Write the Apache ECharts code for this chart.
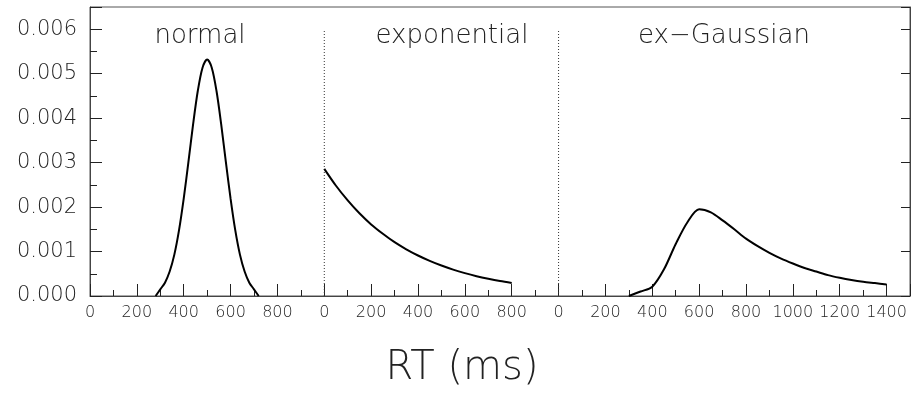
<!DOCTYPE html>
<html>
<head>
<meta charset="utf-8">
<script src="https://cdn.jsdelivr.net/npm/echarts@6/dist/echarts.min.js"></script>
<style>
  html, body { margin: 0; padding: 0; background: #fff; }
  #chart { width: 917px; height: 405px; }
</style>
</head>
<body>
<div id="chart"></div>
<script>
// three panels drawn on one shared RT axis, each panel shifted by its offset
const panelNames = ['normal', 'exponential', 'ex\u2212Gaussian'];
const panelOffsets = [0, 1000, 2000];

// normal density (RT in ms, density per ms)
const normalRT = [280, 300, 320, 340, 360, 380, 400, 420, 440, 460, 480, 500,
  520, 540, 560, 580, 600, 620, 640, 660, 680, 700, 720];
const normalDens = [0, 0.00015, 0.00030, 0.00055, 0.00093, 0.00148, 0.00219, 0.00301,
  0.00386, 0.00461, 0.00513, 0.00532, 0.00513, 0.00461, 0.00386, 0.00301, 0.00219,
  0.00148, 0.00093, 0.00055, 0.00030, 0.00015, 0];

// exponential density
const expRT = [0, 50, 100, 150, 200, 250, 300, 350, 400, 450, 500, 550, 600, 650, 700, 750, 800];
const expDens = [0.00286, 0.00248, 0.00215, 0.00186, 0.00161, 0.00140, 0.00121, 0.00105,
  0.000911, 0.000790, 0.000685, 0.000594, 0.000515, 0.000446, 0.000387, 0.000335, 0.000291];

// ex-Gaussian density
const exgRT = [300, 350, 400, 450, 500, 550, 600, 650, 700, 750, 800, 850, 900, 950,
  1000, 1050, 1100, 1150, 1200, 1250, 1300, 1350, 1400];
const exgDens = [0, 0.00010, 0.00021, 0.00060, 0.00117, 0.00166, 0.00195, 0.00188,
  0.00170, 0.00150, 0.00129, 0.00112, 0.00097, 0.00084, 0.00073, 0.00063, 0.00055,
  0.00047, 0.00041, 0.00036, 0.00032, 0.00029, 0.00026];

// dividers between panels
const dividerRT = [1000, 2000];
const dividerTop = 0.006;

const yMax = 0.0065;
const xMax = 3500;

const font = 'DejaVu Sans';
const thin = 200;
const ink = '#222';

const chart = echarts.init(document.getElementById('chart'));

const pairs = (xs, ys, off) => xs.map((x, i) => [x + off, ys[i]]);

const series = [
  { name: panelNames[0], data: pairs(normalRT, normalDens, panelOffsets[0]), smooth: 0.3 },
  { name: panelNames[1], data: pairs(expRT, expDens, panelOffsets[1]), smooth: 0.3 },
  { name: panelNames[2], data: pairs(exgRT, exgDens, panelOffsets[2]), smooth: 0.3 }
].map(s => ({
  ...s,
  type: 'line',
  symbol: 'none',
  lineStyle: { color: '#000', width: 2 },
  silent: true,
  z: 5
}));

dividerRT.forEach(x => {
  series.push({
    type: 'line',
    symbol: 'none',
    data: [[x, 0], [x, dividerTop]],
    lineStyle: { color: '#333', width: 1, type: [1, 2] },
    silent: true
  });
});

const labelFor = v => {
  if (v >= xMax) return '';
  if (v < 1000) return String(v);
  if (v < 2000) return String(v - 1000);
  return String(v - 2000);
};

const textStyle = size => ({ fontFamily: font, fontWeight: thin, fontSize: size, fill: ink });

const option = {
  backgroundColor: '#fff',
  animation: false,
  grid: {
    left: 90, right: 7, top: 7, bottom: 109,
    show: true, borderColor: '#555', borderWidth: 1, backgroundColor: 'transparent'
  },
  xAxis: [
    {
      type: 'value', min: 0, max: xMax, interval: 200, position: 'bottom',
      axisLine: { lineStyle: { color: '#444', width: 1 } },
      axisTick: { inside: true, length: 12, lineStyle: { color: '#222' } },
      axisLabel: {
        formatter: labelFor, interval: 0, hideOverlap: false, margin: 9,
        fontFamily: font, fontWeight: thin, fontSize: 16, color: ink
      },
      splitLine: { show: false }
    },
    {
      type: 'value', min: 0, max: xMax, interval: 100, position: 'bottom',
      axisLine: { show: false },
      axisTick: { inside: true, length: 6, lineStyle: { color: '#222' } },
      axisLabel: { show: false },
      splitLine: { show: false }
    }
  ],
  yAxis: [
    {
      type: 'value', min: 0, max: yMax, interval: 0.001, position: 'left',
      axisLine: { show: true, lineStyle: { color: '#444', width: 1 } },
      axisTick: { show: true, inside: true, length: 12, lineStyle: { color: '#222' } },
      axisLabel: {
        formatter: v => (Math.abs(v / 0.001 - Math.round(v / 0.001)) < 1e-6 ? v.toFixed(3) : ''),
        margin: 13, fontFamily: font, fontWeight: thin, fontSize: 21, color: ink
      },
      splitLine: { show: false }
    },
    {
      type: 'value', min: 0, max: yMax, interval: 0.0005, position: 'left',
      axisLine: { show: false },
      axisTick: { show: true, inside: true, length: 7, lineStyle: { color: '#222' } },
      axisLabel: { show: false },
      splitLine: { show: false }
    },
    {
      type: 'value', min: 0, max: yMax, interval: 0.001, position: 'right',
      axisLine: { show: true, lineStyle: { color: '#444', width: 1 } },
      axisTick: { show: true, inside: true, length: 9, lineStyle: { color: '#222' } },
      axisLabel: { show: false },
      splitLine: { show: false }
    }
  ],
  graphic: [
    { type: 'text', x: 200, y: 36, style: { text: panelNames[0], align: 'center', verticalAlign: 'middle', ...textStyle(26) } },
    { type: 'text', x: 452, y: 36, style: { text: panelNames[1], align: 'center', verticalAlign: 'middle', ...textStyle(26) } },
    { type: 'text', x: 724, y: 36, style: { text: panelNames[2], align: 'center', verticalAlign: 'middle', ...textStyle(26) } },
    { type: 'text', x: 462, y: 369, style: { text: 'RT (ms)', align: 'center', verticalAlign: 'middle', ...textStyle(40) } }
  ],
  series: series
};

chart.setOption(option);
</script>
</body>
</html>
